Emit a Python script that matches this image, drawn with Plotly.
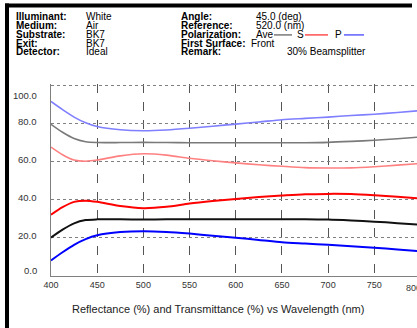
import plotly.graph_objects as go

# ---- data ----
wavelength = [400, 412.5, 425, 437.5, 450, 475, 500, 525, 550, 575, 600, 625, 650, 675, 700, 725, 750, 775, 800]
p_upper   = [91.8, 87.5, 83.6, 80.6, 78.6, 76.9, 76.4, 76.8, 77.7, 78.8, 79.9, 81.0, 82.2, 82.9, 83.6, 84.4, 85.1, 86.0, 87.0]
ave_upper = [79.8, 75.6, 72.3, 70.6, 70.2, 70.2, 70.3, 70.2, 70.1, 70.1, 70.1, 70.1, 70.1, 70.1, 70.3, 70.8, 71.4, 72.2, 73.1]
s_upper   = [67.8, 63.8, 61.0, 60.4, 61.0, 63.2, 64.3, 63.6, 61.9, 60.6, 59.5, 58.5, 57.7, 57.0, 56.8, 56.9, 57.5, 58.3, 59.2]
s_lower   = [32.2, 36.2, 39.0, 39.6, 39.0, 36.8, 35.7, 36.4, 38.1, 39.4, 40.5, 41.5, 42.3, 43.0, 43.2, 43.1, 42.5, 41.7, 40.8]
ave_lower = [20.2, 24.4, 27.7, 29.4, 29.8, 29.8, 29.7, 29.8, 29.9, 29.9, 29.9, 29.9, 29.9, 29.9, 29.7, 29.2, 28.6, 27.8, 26.9]
p_lower   = [8.2, 12.5, 16.4, 19.4, 21.4, 23.1, 23.6, 23.2, 22.3, 21.2, 20.1, 19.0, 17.8, 17.1, 16.4, 15.6, 14.9, 14.0, 13.0]

x_ticks = [400, 450, 500, 550, 600, 650, 700, 750, 800]
y_ticks = [0, 20, 40, 60, 80, 100]
y_tick_text = ["0.0", "20.0", "40.0", "60.0", "80.0", "100.0"]

info_left_labels = ["Illuminant:", "Medium:", "Substrate:", "Exit:", "Detector:"]
info_left_values = ["White", "Air", "BK7", "BK7", "Ideal"]
info_right_labels = ["Angle:", "Reference:", "Polarization:", "First Surface:", "Remark:"]
info_right_values = ["45.0 (deg)", "520.0 (nm)", "Ave", "Front", "30% Beamsplitter"]
legend_names = ["S", "P"]
x_title = "Reflectance (%) and Transmittance (%) vs Wavelength (nm)"

# ---- layout geometry (pixels) ----
FW, FH = 417, 328
L, T = 51, 84.1
XR = [400, 796.2]
YR = [0, 101]
W = FW - L
H = 192.4
B = FH - T - H

def fx(px):
    return (px - L) / W

def fy(py):
    return (T + H - py) / H

FONT = "Liberation Sans, Arial, sans-serif"

fig = go.Figure()
series = [
    (p_upper, "#7f7fff", 1.6),
    (ave_upper, "#7a7a7a", 1.6),
    (s_upper, "#ff8080", 1.6),
    (s_lower, "#ff0000", 2.0),
    (ave_lower, "#111111", 2.0),
    (p_lower, "#0000ff", 2.0),
]
for ys, col, w in series:
    fig.add_trace(go.Scatter(x=wavelength, y=ys, mode="lines",
                             line=dict(color=col, width=w, shape="spline", smoothing=0.8),
                             showlegend=False, hoverinfo="skip"))

annotations = []
shapes = []

# y tick labels
y_shift = [6, 2.5, 2.5, 2.5, 2, -10]
for v, t, s in zip(y_ticks, y_tick_text, y_shift):
    annotations.append(dict(x=0, xref="paper", y=v, yref="y", text=t, showarrow=False,
                            xanchor="right", yanchor="middle", xshift=-12, yshift=s,
                            font=dict(family=FONT, size=9.5, color="#333333")))
# 800 tick label (last label, pulled inside the edge)
annotations.append(dict(x=fx(404), xref="paper", y=0, yref="paper",
                        text=str(x_ticks[-1]), showarrow=False, xanchor="left", yanchor="top", yshift=-5,
                        font=dict(family=FONT, size=9, color="#333333")))
# x title
annotations.append(dict(x=fx(218), xref="paper", y=fy(310), yref="paper", text=x_title,
                        showarrow=False, xanchor="center", yanchor="middle",
                        font=dict(family=FONT, size=11, color="#222222")))

# header block
row_y = [16.8, 25.6, 34.4, 43.2, 52.0]
hfont = dict(family=FONT, size=10, color="#000000")
for i in range(5):
    annotations.append(dict(x=fx(14), xref="paper", y=fy(row_y[i]), yref="paper",
                            text="<b>%s</b>" % info_left_labels[i], showarrow=False,
                            xanchor="left", yanchor="middle", font=hfont))
    annotations.append(dict(x=fx(84), xref="paper", y=fy(row_y[i]), yref="paper",
                            text=info_left_values[i], showarrow=False,
                            xanchor="left", yanchor="middle", font=hfont))
    annotations.append(dict(x=fx(179), xref="paper", y=fy(row_y[i]), yref="paper",
                            text="<b>%s</b>" % info_right_labels[i], showarrow=False,
                            xanchor="left", yanchor="middle", font=hfont))
right_val_x = [254, 254, 254, 249, 285]
for i in range(5):
    annotations.append(dict(x=fx(right_val_x[i]), xref="paper", y=fy(row_y[i]), yref="paper",
                            text=info_right_values[i], showarrow=False,
                            xanchor="left", yanchor="middle", font=hfont))
# polarization legend
annotations.append(dict(x=fx(295), xref="paper", y=fy(row_y[2]), yref="paper", text=legend_names[0],
                        showarrow=False, xanchor="left", yanchor="middle", font=hfont))
annotations.append(dict(x=fx(333), xref="paper", y=fy(row_y[2]), yref="paper", text=legend_names[1],
                        showarrow=False, xanchor="left", yanchor="middle", font=hfont))
for x0, x1, col in [(274, 292, "#7a7a7a"), (305, 328, "#ff5050"), (344, 364, "#6060ff")]:
    shapes.append(dict(type="line", xref="paper", yref="paper", x0=fx(x0), x1=fx(x1),
                       y0=fy(row_y[2] + 0.5), y1=fy(row_y[2] + 0.5), line=dict(color=col, width=1.5)))

# frame
shapes.append(dict(type="line", xref="paper", yref="paper", x0=fx(7), x1=fx(7),
                   y0=fy(3.5), y1=fy(335), line=dict(color="#000000", width=4)))
shapes.append(dict(type="line", xref="paper", yref="paper", x0=fx(5), x1=fx(412),
                   y0=fy(5.5), y1=fy(5.5), line=dict(color="#000000", width=4)))

fig.update_layout(
    width=FW, height=FH,
    margin=dict(l=L, r=0, t=T, b=B, pad=0),
    paper_bgcolor="white", plot_bgcolor="white",
    annotations=annotations, shapes=shapes,
    xaxis=dict(range=XR, tickvals=x_ticks[:-1], ticktext=[str(v) for v in x_ticks[:-1]],
               showgrid=True, gridcolor="#555555", gridwidth=1, griddash="dash",
               showline=True, linecolor="#808080", linewidth=1, zeroline=False,
               ticks="", tickfont=dict(family=FONT, size=9, color="#333333")),
    yaxis=dict(range=YR, tickvals=y_ticks, showticklabels=False,
               showgrid=True, gridcolor="#808080", gridwidth=1, griddash="dot",
               showline=True, linecolor="#808080", linewidth=1, zeroline=False, ticks=""),
)

fig.write_html("out.html", config={"displayModeBar": False},
               post_script="document.body.style.margin='0';")
